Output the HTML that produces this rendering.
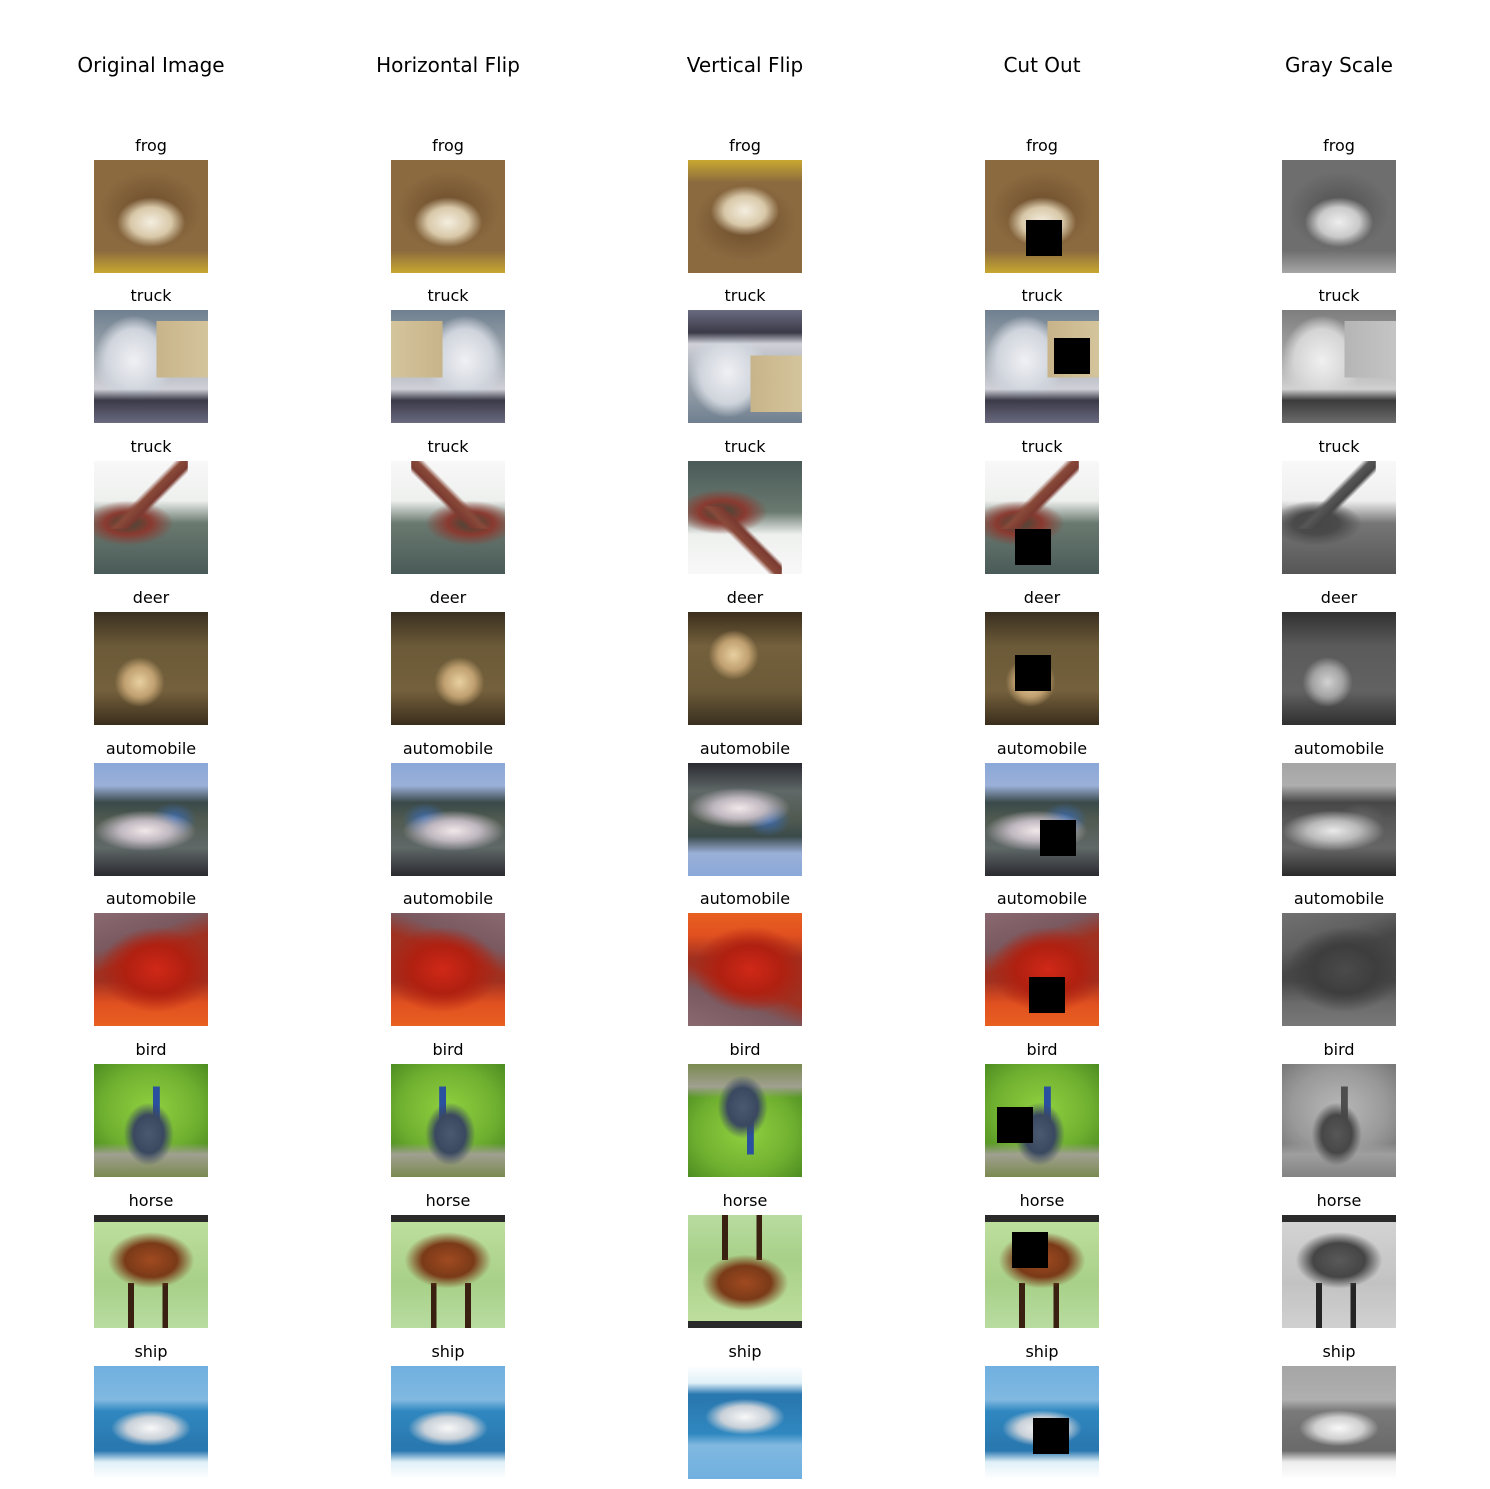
<!DOCTYPE html>
<html><head><meta charset="utf-8"><style>
body{margin:0;background:#fff;}
#fig{position:relative;width:1490px;height:1489px;background:#fff;font-family:"DejaVu Sans","Liberation Sans",sans-serif;overflow:hidden}
.ct{position:absolute;top:53px;width:300px;text-align:center;font-size:20px;color:#000}
.lb{position:absolute;width:200px;text-align:center;font-size:16px;color:#000}
.im{position:absolute;width:114px;height:113px;overflow:hidden}
.im > div.c{position:absolute;inset:0}
.hf > div.c{transform:scaleX(-1)}
.vf > div.c{transform:scaleY(-1)}
.gs > div.c{filter:grayscale(1)}
.cut{position:absolute;width:36px;height:36px;background:#000}
.frog{background:
 radial-gradient(ellipse 30% 22% at 50% 55%,#f4eee0 0%,#d8c8a8 60%,transparent 100%),
 radial-gradient(ellipse 45% 35% at 50% 45%,#6a4a2a 0%,transparent 100%),
 linear-gradient(180deg,transparent 80%,#c8a830 100%),
 #8b6a40;}
.truck1{background:
 linear-gradient(90deg,transparent 55%,#c8b48a 55%,#d4c49c 100%) 0 20%/100% 50% no-repeat,
 linear-gradient(180deg,transparent 70%,#3a3a48 80%,#6a6a80 100%),
 radial-gradient(ellipse 35% 40% at 35% 45%,#f0f0f4 0%,#cfd4dc 70%,transparent 100%),
 linear-gradient(180deg,#708090 0%,#a0a8b0 40%,#d0d0d8 70%);}
.truck2{background:
 linear-gradient(135deg,transparent 45%,#8a4a3a 50%,#7a3a30 58%,transparent 62%) 40% 0/70% 60% no-repeat,
 radial-gradient(ellipse 40% 20% at 30% 55%,#3a4a3a 0%,#8a3a30 50%,transparent 100%),
 linear-gradient(180deg,#f8f8f8 0%,#eef0ee 35%,#6a7a70 55%,#4a5a58 100%);}
.deer{background:
 radial-gradient(ellipse 22% 22% at 40% 62%,#e8d0a0 0%,#c0a070 60%,transparent 100%),
 linear-gradient(180deg,#3a3020 0%,#6b5a38 30%,#74603c 70%,#3a2e1c 100%);}
.auto1{background:
 radial-gradient(ellipse 45% 18% at 45% 60%,#f0e8e8 0%,#c0b8c0 50%,transparent 100%),
 radial-gradient(ellipse 20% 15% at 70% 50%,#3a6ab0 0%,transparent 100%),
 linear-gradient(180deg,#8aa8d8 0%,#9ab0d8 20%,#3a4a4a 35%,#505a50 50%,#606868 75%,#2a2a30 100%);}
.auto2{background:
 radial-gradient(ellipse 50% 38% at 55% 50%,#d02818 0%,#b02010 55%,transparent 100%),
 linear-gradient(160deg,#8a6a70 0%,#7a5a60 25%,transparent 40%),
 linear-gradient(180deg,transparent 60%,#e05020 80%,#e86020 100%),
 #a03020;}
.bird{background:
 radial-gradient(ellipse 22% 28% at 48% 62%,#4a5870 0%,#3a4860 60%,transparent 100%),
 linear-gradient(180deg,transparent 20%,#2a50a0 20%,#2a50a0 50%,transparent 50%) 55% 0/6% 100% no-repeat,
 linear-gradient(180deg,transparent 70%,#a0a090 80%,#7a8a50 100%),
 radial-gradient(ellipse 70% 60% at 50% 40%,#90d040 0%,#70b030 60%,#4a8a20 100%);}
.horse{background:
 radial-gradient(ellipse 38% 25% at 50% 40%,#a04a20 0%,#7a3a18 60%,transparent 100%),
 linear-gradient(180deg,#2a2a2a 0%,#2a2a2a 6%,transparent 6%),
 linear-gradient(90deg,transparent 30%,#3a2010 30%,#3a2010 35%,transparent 35%,transparent 60%,#3a2010 60%,#3a2010 65%,transparent 65%) 0 100%/100% 40% no-repeat,
 linear-gradient(180deg,#c0e0a0 0%,#a8d088 60%,#b8dca0 100%);}
.ship{background:
 radial-gradient(ellipse 35% 16% at 50% 55%,#f8f8f8 0%,#c8d0d8 60%,transparent 100%),
 linear-gradient(180deg,transparent 75%,#e0f0f8 85%,#ffffff 100%),
 linear-gradient(180deg,#70b0e0 0%,#80b8e0 30%,#3088c0 40%,#2a78b0 70%);}
</style></head><body>
<div id="fig"></div>
<script>
const columns=["Original Image","Horizontal Flip","Vertical Flip","Cut Out","Gray Scale"];
const colMods=["","hf","vf","cut","gs"];
const labels=["frog","truck","truck","deer","automobile","automobile","bird","horse","ship"];
const kinds=["frog","truck1","truck2","deer","auto1","auto2","bird","horse","ship"];
const cutXY=[[41,60],[69,28],[30,68],[30,43],[55,57],[44,64],[12,43],[27,17],[48,52]];
const colX=[151,448,745,1042,1339];
const rowTop=[160,310,461,612,763,913,1064,1215,1366];
const fig=document.getElementById('fig');
columns.forEach((t,i)=>{
 const d=document.createElement('div');d.className='ct';
 
 
 d.style.left=(colX[i]-150)+'px';d.textContent=t;fig.appendChild(d);
});
labels.forEach((lab,r)=>{
 colX.forEach((cx,c)=>{
  const l=document.createElement('div');l.className='lb';
  
  
  l.style.left=(cx-100)+'px';l.style.top=(rowTop[r]-24)+'px';l.textContent=lab;fig.appendChild(l);
  const im=document.createElement('div');
  im.className='im '+(colMods[c]==='cut'?'':colMods[c]);
  
  
  im.style.left=(cx-57)+'px';im.style.top=rowTop[r]+'px';
  const ci=document.createElement('div');ci.className='c '+kinds[r];im.appendChild(ci);
  if(colMods[c]==='cut'){
   const k=document.createElement('div');k.className='cut';
   
   
   k.style.left=cutXY[r][0]+'px';k.style.top=cutXY[r][1]+'px';im.appendChild(k);
  }
  fig.appendChild(im);
 });
});
</script>
</body></html>
